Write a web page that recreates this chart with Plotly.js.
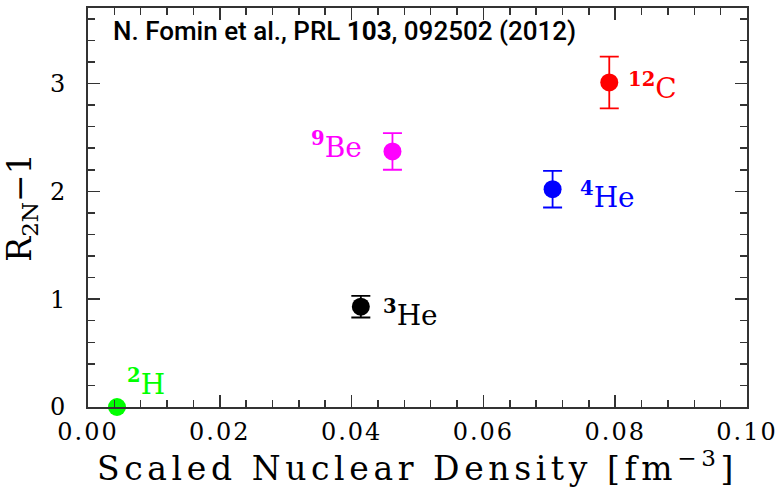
<!DOCTYPE html>
<html>
<head>
<meta charset="utf-8">
<script src="https://cdn.plot.ly/plotly-3.0.1.min.js"></script>
<style>
  html, body { margin: 0; padding: 0; background: #fff; overflow: hidden; }
  #plot { width: 777px; height: 488px; }
  #plot .g-xtitle text { letter-spacing: 4.6px; }
  #plot .xtick text, #plot .ytick text { letter-spacing: 2px; }
</style>
</head>
<body>
<div id="plot"></div>
<script>
// ---- data ----
const massNumbers = ['2', '3', '9', '4', '12'];
const symbols     = ['H', 'He', 'Be', 'He', 'C'];
const density     = [0.0044, 0.0414, 0.0462, 0.0705, 0.0791];   // fm^-3
const r2nMinus1   = [0.00, 0.93, 2.37, 2.02, 3.01];
const r2nError    = [0.00, 0.10, 0.17, 0.17, 0.24];
const colors      = ['#00ff00', '#000000', '#ff00ff', '#0000ff', '#ff0000'];
const xTickVals   = [0, 0.02, 0.04, 0.06, 0.08, 0.10];
const yTickVals   = [0, 1, 2, 3];

// label offsets (px) relative to each point
const labelShift = [[29, 25], [50, -7], [-56, 6], [55, -6], [43, -4]];

const traces = density.map((x, i) => ({
  type: 'scatter',
  mode: 'markers',
  x: [x],
  y: [r2nMinus1[i]],
  marker: { color: colors[i], size: 18, line: { width: 0 } },
  error_y: {
    type: 'data', array: [r2nError[i]], visible: r2nError[i] > 0,
    color: colors[i], thickness: 1.8, width: 9.5
  },
  showlegend: false,
  cliponaxis: false
}));

const serif = 'DejaVu Serif, serif';

const annotations = density.map((x, i) => ({
  x: x, y: r2nMinus1[i], xref: 'x', yref: 'y',
  text: '<sup><b>' + massNumbers[i] + '</b></sup>' + symbols[i],
  showarrow: false, xanchor: 'center', yanchor: 'middle',
  xshift: labelShift[i][0], yshift: labelShift[i][1],
  font: { family: serif, size: 28, color: colors[i] }
}));

annotations.push({
  xref: 'paper', yref: 'paper', x: 0.035, y: 0.942,
  xanchor: 'left', yanchor: 'middle', showarrow: false,
  text: 'N. Fomin et al., PRL <b>103</b>, 092502 (2012)',
  font: { family: 'Roboto, Liberation Sans, sans-serif', size: 26, color: '#000', weight: 500 }
});

const axisCommon = {
  showline: true, linecolor: '#333', linewidth: 2, mirror: 'allticks',
  ticks: 'inside', tickcolor: '#333', tickwidth: 1.5, ticklen: 12,
  showgrid: false, zeroline: false,
  tickfont: { family: serif, size: 24, color: '#000' }
};

const layout = {
  width: 777, height: 488,
  margin: { l: 88, r: 30, t: 8, b: 81 },
  paper_bgcolor: '#fff', plot_bgcolor: '#fff',
  xaxis: Object.assign({}, axisCommon, {
    range: [0, 0.1000001], tickvals: xTickVals, tickformat: '.2f',
    minor: { dtick: 0.004, ticks: 'inside', ticklen: 7, tickcolor: '#333', tickwidth: 1.5 },
    ticklabelstandoff: 2,
    title: { text: 'Scaled Nuclear Density [fm<sup>−3</sup>]', standoff: 4,
             font: { family: serif, size: 33, color: '#000' } }
  }),
  yaxis: Object.assign({}, axisCommon, {
    range: [0, 3.7], tickvals: yTickVals,
    minor: { dtick: 0.2, ticks: 'inside', ticklen: 7, tickcolor: '#333', tickwidth: 1.5 },
    ticklabelstandoff: 14,
    title: { text: 'R<sub>2N</sub>−1', standoff: 12,
             font: { family: serif, size: 33, color: '#000' } }
  }),
  annotations: annotations
};

Plotly.newPlot('plot', traces, layout, { staticPlot: true, displayModeBar: false });
</script>
</body>
</html>
